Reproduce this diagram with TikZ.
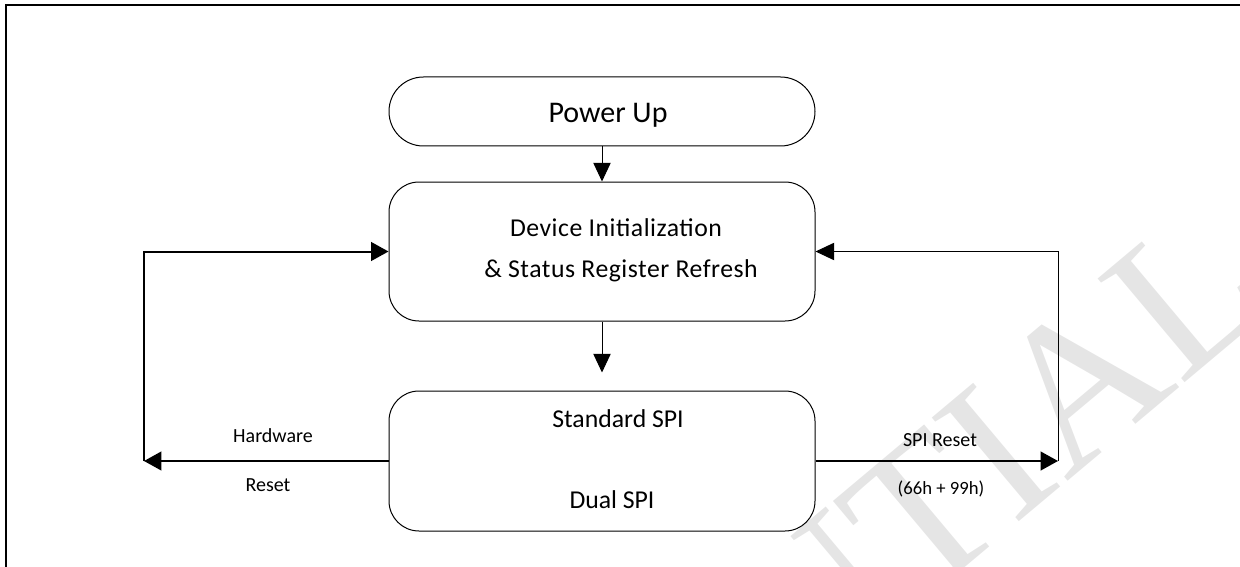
\documentclass[tikz,border=0pt]{standalone}
\usepackage{fontspec}
\setmainfont{Carlito}
\newfontfamily\wmfont{Liberation Serif}
\usetikzlibrary{arrows.meta}
\tikzset{
  box/.style={draw, line width=0.75pt, minimum width=319.5pt, inner sep=0pt},
  lbl/.style={inner sep=0pt, anchor=center},
  con/.style={line width=0.75pt, -{Triangle[length=14pt,width=13pt]}},
  conb/.style={line width=1.5pt, -{Triangle[length=13pt,width=14pt]}},
}
\begin{document}
\begin{tikzpicture}[x=0.75pt,y=-0.75pt]
\useasboundingbox (0,0) rectangle (1240,567);
\begin{scope}
\clip (0,0) rectangle (1240,567);
\node[rotate=40, text=black!10, font=\wmfont\fontsize{155}{155}\selectfont, anchor=base east, inner sep=0pt] (wm) at (1278,305) {CONFIDENTIAL};
\draw[line width=1.5pt] (6,570) -- (6,5) -- (1245,5);
\end{scope}
% boxes
\node[box, minimum height=51.75pt, rounded corners=25.8pt] (pu) at (602,111.5) {};
\node[box, minimum height=104.25pt, rounded corners=22.5pt] (dev) at (602,251.5) {};
\node[box, minimum height=105pt, rounded corners=22.5pt] (spi) at (602,461) {};
% texts
\node[lbl, font=\fontsize{22.5}{22.5}\selectfont] (tpu) at (608,115) {Power Up};
\node[lbl, font=\fontsize{19.3}{19.3}\selectfont\addfontfeature{LetterSpace=2}] (td1) at (616,228) {Device Initialization};
\node[lbl, font=\fontsize{19.3}{19.3}\selectfont\addfontfeature{LetterSpace=2}] (td2) at (621,271) {\&{} Status Register Refresh};
\node[lbl, font=\fontsize{19.3}{19.3}\selectfont] (ts1) at (618,419) {Standard SPI};
\node[lbl, font=\fontsize{19.3}{19.3}\selectfont] (ts2) at (612,500) {Dual SPI};
\node[lbl, font=\fontsize{15}{15}\selectfont] (thw) at (273,436) {Hardware};
\node[lbl, font=\fontsize{15}{15}\selectfont] (trs) at (268,485) {Reset};
\node[lbl, font=\fontsize{15}{15}\selectfont] (tsr) at (940,440) {SPI Reset};
\node[lbl, font=\fontsize{14}{14}\selectfont] (tcode) at (941,489) {(66h + 99h)};
% corner coordinates
\coordinate (hl) at (144,461);
\coordinate (hr) at (1058,461);
% connectors
\draw[con] (pu) -- (dev);
\draw[con, shorten >=13.5pt] (dev) -- (spi);
\draw[conb] (spi.west) -- (hl);
\draw[conb] (hl) |- (dev.west);
\draw[conb] (spi.east) -- (hr);
\draw[con] (hr) |- (dev.east);
\end{tikzpicture}
\end{document}
